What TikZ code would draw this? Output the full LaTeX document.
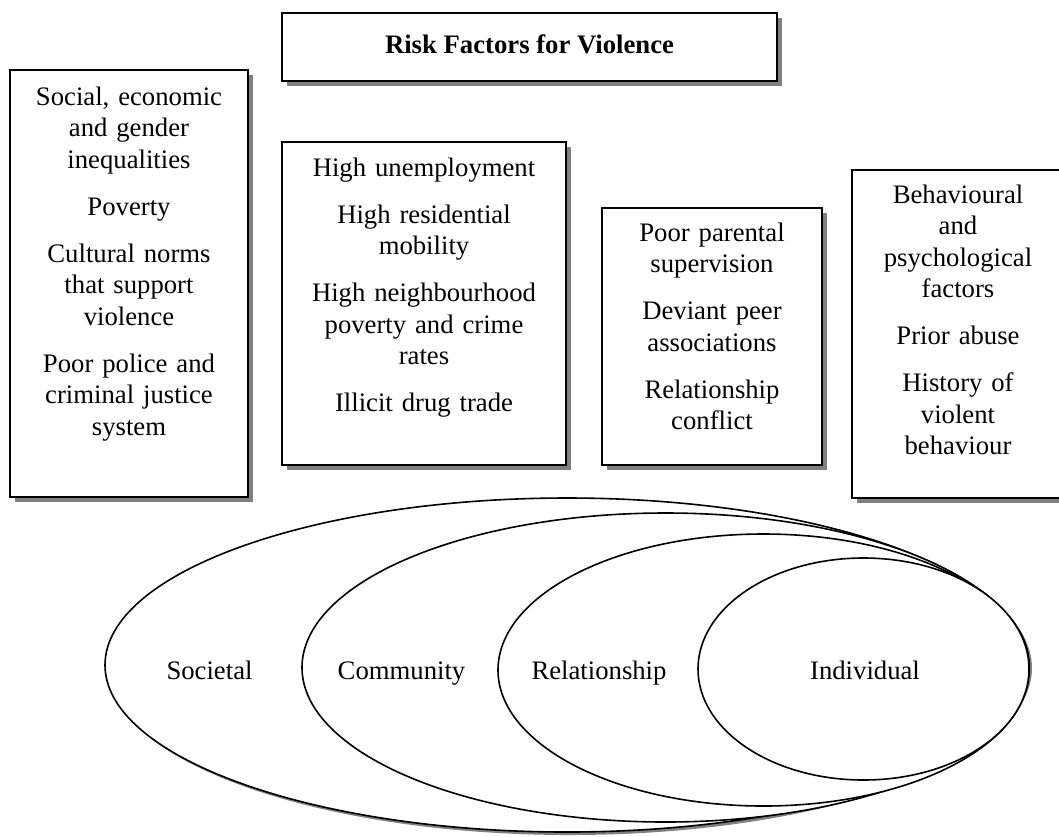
\documentclass[tikz,border=0pt]{standalone}
\usepackage{fontspec}
\setmainfont{Liberation Serif}
\newcommand{\bodysize}{\fontsize{13.35}{15.75}\selectfont}
\begin{document}
\begin{tikzpicture}[x=0.5pt,y=-0.5pt,
  boxshadow/.style={fill=black!50,draw=none},
  panel/.style={fill=white,draw=black,line width=1.1pt},
  factors/.style={align=center,inner sep=0pt,anchor=base,font=\bodysize},
  ring/.style={draw=black,fill=white,line width=0.8pt},
  level/.style={anchor=base,inner sep=0pt,font=\bodysize}]
\useasboundingbox (0,0) rectangle (1059,836);
\clip (0,0) rectangle (1059,836);

% heading
\fill[boxshadow] (287,18) rectangle (782,86);
\draw[panel] (282,13) rectangle (777,81);
\node[level,font=\bodysize\bfseries] (title) at (529.5,53) {Risk Factors for Violence};

% societal factors
\fill[boxshadow] (15,75) rectangle (253,502);
\draw[panel] (10,70) rectangle (248,497);
\node[factors,text width=115pt] (socf) at (129,105)
  {Social, economic\\and gender\\inequalities\\[7.75pt]Poverty\\[7.75pt]Cultural norms\\that support\\violence\\[7.75pt]Poor police and\\criminal justice\\system};

% community factors
\fill[boxshadow] (287,147) rectangle (571,470);
\draw[panel] (282,142) rectangle (566,465);
\node[factors,text width=138pt] (comf) at (424,176)
  {High unemployment\\[7.75pt]High residential\\mobility\\[7.75pt]High neighbourhood\\poverty and crime\\rates\\[7.75pt]Illicit drug trade};

% relationship factors
\fill[boxshadow] (607,213) rectangle (827,470);
\draw[panel] (602,208) rectangle (822,465);
\node[factors,text width=105pt] (relf) at (712,241)
  {Poor parental\\supervision\\[7.75pt]Deviant peer\\associations\\[7.75pt]Relationship\\conflict};

% individual factors
\fill[boxshadow] (857,175) rectangle (1069,503);
\draw[panel] (852,170) rectangle (1064,498);
\node[factors,text width=100pt] (indf) at (958,203)
  {Behavioural\\and\\psychological\\factors\\[7.75pt]Prior abuse\\[7.75pt]History of\\violent\\behaviour};

% nested levels of the ecological model
\fill[black!50] (570,668) ellipse [x radius=462,y radius=167];
\draw[ring] (567,665) ellipse [x radius=462,y radius=167];
\draw[ring] (665.5,667.5) ellipse [x radius=363.5,y radius=154.5];
\draw[ring] (763.5,670) ellipse [x radius=265.5,y radius=136];
\draw[ring] (863.5,669) ellipse [x radius=165.5,y radius=111];

\node[level] (societal) at (209.5,679) {Societal};
\node[level] (community) at (401.5,679) {Community};
\node[level] (relationship) at (599,679) {Relationship};
\node[level] (individual) at (865,679) {Individual};
\end{tikzpicture}
\end{document}
